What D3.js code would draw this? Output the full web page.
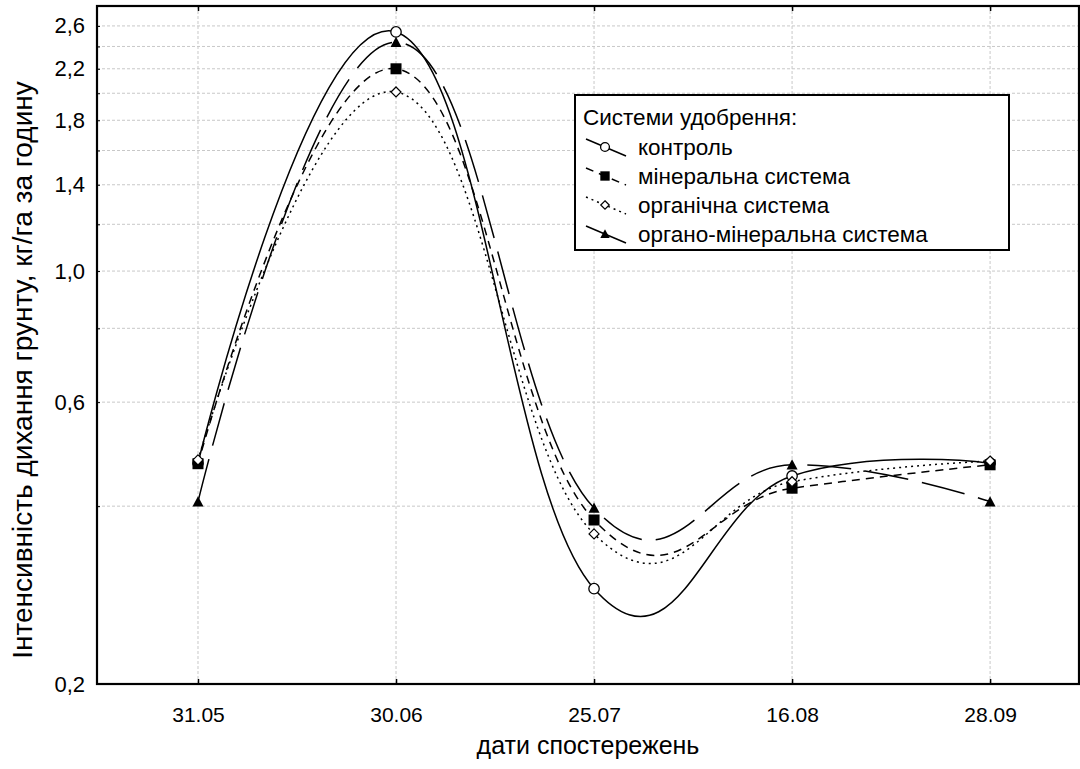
<!DOCTYPE html>
<html>
<head>
<meta charset="utf-8">
<script src="https://cdn.jsdelivr.net/npm/d3@7"></script>
<style>
    body { margin:0; background:#ffffff; }
    text { font-family: "Liberation Sans", Arial, sans-serif; fill:#000; }
</style>
</head>
<body>
<div id="chart"></div>
<script>
//Soil respiration chart

//data
const dates = ["31.05", "30.06", "25.07", "16.08", "28.09"];
const control = [0.473, 2.54, 0.290, 0.450, 0.473];
const mineral = [0.472, 2.20, 0.379, 0.429, 0.470];
const organic = [0.479, 2.01, 0.359, 0.440, 0.477];
const organoMineral = [0.407, 2.44, 0.397, 0.470, 0.407];
const seriesNames = ["контроль", "мінеральна система", "органічна система", "органо-мінеральна система"];
const yTickLabels = [0.2, 0.6, 1.0, 1.4, 1.8, 2.2, 2.6];
const yGridValues = [0.2, 0.4, 0.6, 0.8, 1.0, 1.2, 1.4, 1.6, 1.8, 2.0, 2.2, 2.4, 2.6];

//dimensions
const ch_width = 1080;
const ch_height = 769;
const ch_plot = {left: 97, right: 1079, top: 6, bottom: 684};
const ch_gridColor = "#c8c8c8";

const ch_series = [
    {name: seriesNames[0], values: control, dash: null, marker: "circle"},
    {name: seriesNames[1], values: mineral, dash: "8,6", marker: "square"},
    {name: seriesNames[2], values: organic, dash: "2,4", marker: "diamond"},
    {name: seriesNames[3], values: organoMineral, dash: "44,14", marker: "triangle"}
];

let svg = d3.select("#chart")
    .append("svg")
    .attr("width", ch_width)
    .attr("height", ch_height);

svg.append("rect")
    .attr("width", "100%")
    .attr("height", "100%")
    .attr("fill", "#ffffff");

//scales
let xScale = d3.scaleLinear()
    .domain([-0.51, 4.449])
    .range([ch_plot.left, ch_plot.right]);

let yScale = d3.scaleLog()
    .domain([0.2, 2.81])
    .range([ch_plot.bottom, ch_plot.top]);

//grid
svg.append("g")
    .selectAll("line")
    .data(yGridValues)
    .enter()
    .append("line")
    .attr("x1", ch_plot.left)
    .attr("x2", ch_plot.right)
    .attr("y1", d => yScale(d))
    .attr("y2", d => yScale(d))
    .attr("stroke", ch_gridColor)
    .attr("stroke-dasharray", "3,2");

svg.append("g")
    .selectAll("line")
    .data(dates)
    .enter()
    .append("line")
    .attr("x1", (d, i) => xScale(i))
    .attr("x2", (d, i) => xScale(i))
    .attr("y1", ch_plot.top)
    .attr("y2", ch_plot.bottom)
    .attr("stroke", ch_gridColor)
    .attr("stroke-dasharray", "3,2");

//X axis (bottom and top)
let xAxis = d3.axisBottom(xScale)
    .tickValues(d3.range(dates.length))
    .tickFormat(i => dates[i])
    .tickSizeInner(-5)
    .tickSizeOuter(0)
    .tickPadding(23);

let gx = svg.append("g")
    .attr("transform", `translate(0,${ch_plot.bottom})`)
    .call(xAxis);
gx.select(".domain").remove();
gx.selectAll("text").attr("font-size", "21px").attr("font-family", "Liberation Sans, Arial");
gx.selectAll("line").attr("stroke-width", 1.5);

let gxTop = svg.append("g")
    .attr("transform", `translate(0,${ch_plot.top})`)
    .call(d3.axisTop(xScale).tickValues(d3.range(dates.length)).tickFormat("").tickSizeInner(-5).tickSizeOuter(0));
gxTop.select(".domain").remove();
gxTop.selectAll("line").attr("stroke-width", 1.5);

//Y axis
let yAxis = d3.axisLeft(yScale)
    .tickValues(yGridValues)
    .tickFormat(d => yTickLabels.some(v => Math.abs(v - d) < 1e-9) ? d3.format(".1f")(d).replace(".", ",") : "")
    .tickSizeInner(-3)
    .tickSizeOuter(0)
    .tickPadding(12);

let gy = svg.append("g")
    .attr("transform", `translate(${ch_plot.left},0)`)
    .call(yAxis);
gy.select(".domain").remove();
gy.selectAll("text").attr("font-size", "22px").attr("font-family", "Liberation Sans, Arial");

//frame
svg.append("rect")
    .attr("x", ch_plot.left)
    .attr("y", ch_plot.top)
    .attr("width", ch_plot.right - ch_plot.left)
    .attr("height", ch_plot.bottom - ch_plot.top)
    .attr("fill", "none")
    .attr("stroke", "#000")
    .attr("stroke-width", 2.2);

//lines
let line = d3.line()
    .x((d, i) => xScale(i))
    .y(d => yScale(d))
    .curve(d3.curveCardinal.tension(-0.3));

svg.append("g")
    .selectAll("path")
    .data(ch_series)
    .enter()
    .append("path")
    .attr("d", d => line(d.values))
    .attr("fill", "none")
    .attr("stroke", "#000")
    .attr("stroke-width", 1.5)
    .attr("stroke-dasharray", d => d.dash);

//markers
function drawMarker(g, type, x, y, s) {
    if (type === "circle") {
        g.append("circle").attr("cx", x).attr("cy", y).attr("r", 5.2 * s)
            .attr("fill", "#fff").attr("stroke", "#000").attr("stroke-width", 1.3);
    } else if (type === "square") {
        g.append("rect").attr("x", x - 5.5 * s).attr("y", y - 5.5 * s)
            .attr("width", 11 * s).attr("height", 11 * s).attr("fill", "#000");
    } else if (type === "diamond") {
        let h = 5 * s;
        g.append("path").attr("d", `M${x},${y - h}L${x + h},${y}L${x},${y + h}L${x - h},${y}Z`)
            .attr("fill", "#fff").attr("stroke", "#000").attr("stroke-width", 1.2);
    } else {
        let h = 5.5 * s;
        g.append("path").attr("d", `M${x},${y - h}L${x + h},${y + h * 0.85}L${x - h},${y + h * 0.85}Z`)
            .attr("fill", "#000");
    }
}

let markers = svg.append("g");
ch_series.forEach(s => {
    s.values.forEach((v, i) => drawMarker(markers, s.marker, xScale(i), yScale(v), 1));
});

//Legend
let legend = svg.append("g");
legend.append("rect")
    .attr("x", 575)
    .attr("y", 95)
    .attr("width", 434)
    .attr("height", 155)
    .attr("fill", "#fff")
    .attr("stroke", "#000")
    .attr("stroke-width", 2);

legend.append("text")
    .attr("x", 583)
    .attr("y", 117)
    .attr("dy", "0.35em")
    .attr("font-size", "22.5px")
    .text("Системи удобрення:");

let items = legend.selectAll(".item")
    .data(ch_series)
    .enter()
    .append("g")
    .attr("class", "item")
    .attr("transform", (d, i) => `translate(0,${147 + i * 29})`);

items.append("line")
    .attr("x1", 586).attr("y1", -8)
    .attr("x2", 626).attr("y2", 9)
    .attr("stroke", "#000")
    .attr("stroke-width", 1.5)
    .attr("stroke-dasharray", d => d.dash);

items.each(function (d) {
    drawMarker(d3.select(this), d.marker, 605, 0, 0.85);
});

items.append("text")
    .attr("x", 638)
    .attr("y", 0)
    .attr("dy", "0.35em")
    .attr("font-size", "22.5px")
    .text(d => d.name);

//Labels
svg.append("text")
    .attr("x", 588)
    .attr("y", 754)
    .attr("text-anchor", "middle")
    .attr("font-size", "25px")
    .text("дати спостережень");

svg.append("text")
    .attr("transform", "rotate(-90)")
    .attr("x", -370)
    .attr("y", 32)
    .attr("text-anchor", "middle")
    .attr("font-size", "28px")
    .text("Інтенсивність дихання грунту, кг/га за годину");
</script>
</body>
</html>
